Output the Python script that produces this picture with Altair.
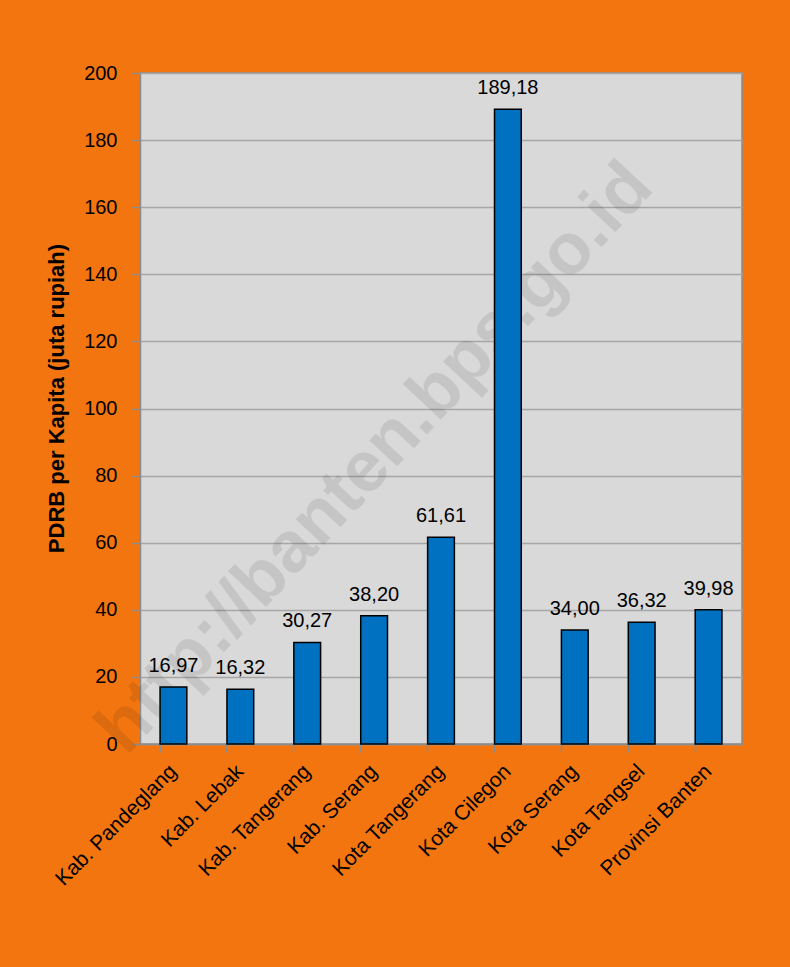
import altair as alt
import pandas as pd

categories = ["Kab. Pandeglang", "Kab. Lebak", "Kab. Tangerang", "Kab.  Serang",
              "Kota Tangerang", "Kota Cilegon", "Kota Serang", "Kota Tangsel",
              "Provinsi Banten"]
values = [16.97, 16.32, 30.27, 38.20, 61.61, 189.18, 34.00, 36.32, 39.98]
value_labels = ["16,97", "16,32", "30,27", "38,20", "61,61", "189,18", "34,00", "36,32", "39,98"]
y_ticks = [0, 20, 40, 60, 80, 100, 120, 140, 160, 180, 200]
y_title = "PDRB per Kapita (juta rupiah)"
watermark = "http://banten.bps.go.id"

ORANGE = "#F27510"
PLOT_BG = "#D9D9D9"
BAR = "#0070C0"
AXIS_GRAY = "#8C8C8C"
FONT = "Liberation Sans, Arial, sans-serif"

df = pd.DataFrame({"region": categories, "value": values, "label": value_labels})

x_enc = alt.X(
    "region:N", sort=categories,
    scale=alt.Scale(paddingInner=0.6, paddingOuter=0.3),
    axis=alt.Axis(
        title=None, labelAngle=-45, labelAlign="right", labelBaseline="middle",
        labelFont=FONT, labelFontSize=21, labelColor="black",
        bandPosition=0, tickSize=8, tickColor=AXIS_GRAY,
        tickWidth=1.5, domainColor=AXIS_GRAY, domainWidth=1.5, labelPadding=16,
        grid=False, labelLimit=400,
    ),
)
y_enc = alt.Y(
    "value:Q",
    scale=alt.Scale(domain=[0, 200], nice=False),
    axis=alt.Axis(
        title=y_title, values=y_ticks, titleFont=FONT, titleFontSize=22,
        titleFontWeight="bold", titleColor="black", titleAngle=270,
        titleAlign="center", titleBaseline="middle", titleX=-84, titleY=325,
        labelFont=FONT, labelFontSize=20, labelColor="black",
        labelPadding=15, tickSize=8, tickColor=AXIS_GRAY, tickWidth=1.5,
        domainColor=AXIS_GRAY, domainWidth=1.5, gridColor="#A6A6A6", gridWidth=1.5,
    ),
)

wm = alt.Chart(pd.DataFrame({"t": [watermark]})).mark_text(
    font=FONT, fontWeight="bold", fontSize=72, angle=313,
    align="center", baseline="middle", color="black", opacity=0.085,
).encode(text="t:N", x=alt.value(235), y=alt.value(385))

bars = alt.Chart(df).mark_bar(color=BAR, stroke="black", strokeWidth=1.5).encode(
    x=x_enc, y=y_enc
)

texts = alt.Chart(df).mark_text(
    font=FONT, fontSize=20, color="black",
    baseline="alphabetic", dy=-15,
).encode(x=alt.X("region:N", sort=categories), y="value:Q", text="label:N")

chart = alt.layer(wm, bars, texts).properties(
    width=602, height=671,
    autosize=alt.AutoSizeParams(type="none"),
    padding={"left": 140, "top": 73, "right": 48, "bottom": 223},
    background=ORANGE,
).configure_view(fill=PLOT_BG, stroke=AXIS_GRAY, strokeWidth=1.5)

chart.save("out.html", embed_options={"renderer": "svg", "actions": False})
